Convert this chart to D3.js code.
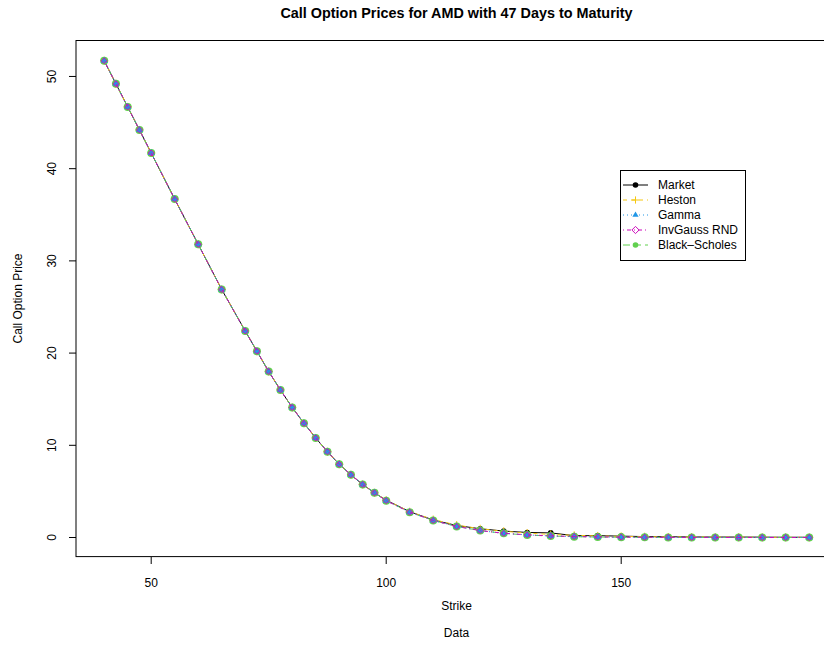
<!DOCTYPE html>
<html><head><meta charset="utf-8">
<script src="https://cdn.jsdelivr.net/npm/d3@7"></script>
<style>body{margin:0;background:#fff}svg{display:block;font-family:"Liberation Sans",Arial,Helvetica,sans-serif}</style>
</head><body>
<script>
const strikes = [40,42.5,45,47.5,50,55,60,65,70,72.5,75,77.5,80,82.5,85,87.5,90,92.5,95,97.5,100,105,110,115,120,125,130,135,140,145,150,155,160,165,170,175,180,185,190];
const market  = [51.7,49.2,46.7,44.2,41.7,36.7,31.8,26.9,22.4,20.2,18.0,16.0,14.1,12.4,10.8,9.3,7.95,6.8,5.75,4.85,4.05,2.8,1.9,1.3,0.95,0.7,0.55,0.5,0.2,0.2,0.15,0.1,0.08,0.06,0.05,0.05,0.04,0.03,0.03];
const heston  = [51.7,49.2,46.7,44.2,41.7,36.7,31.8,26.9,22.4,20.2,18.0,16.0,14.1,12.4,10.8,9.3,7.95,6.8,5.75,4.85,4.05,2.8,1.95,1.35,0.95,0.68,0.48,0.34,0.24,0.17,0.12,0.09,0.06,0.05,0.04,0.03,0.02,0.02,0.01];
const gamma   = [51.7,49.2,46.7,44.2,41.7,36.7,31.8,26.9,22.4,20.2,18.0,16.0,14.1,12.4,10.8,9.3,7.95,6.8,5.75,4.85,4.0,2.75,1.85,1.2,0.75,0.45,0.28,0.17,0.1,0.06,0.04,0.02,0.01,0.01,0.0,0.0,0.0,0.0,0.0];
const invgauss= [51.7,49.2,46.7,44.2,41.7,36.7,31.8,26.9,22.4,20.2,18.0,16.0,14.1,12.4,10.8,9.3,7.95,6.8,5.75,4.85,4.0,2.75,1.85,1.2,0.76,0.46,0.29,0.18,0.11,0.07,0.04,0.03,0.02,0.01,0.01,0.0,0.0,0.0,0.0];
const blackScholes = [51.7,49.2,46.7,44.2,41.7,36.7,31.8,26.9,22.4,20.2,18.0,16.0,14.1,12.4,10.8,9.3,7.95,6.8,5.75,4.85,4.0,2.75,1.85,1.2,0.75,0.45,0.27,0.16,0.09,0.05,0.03,0.02,0.01,0.0,0.0,0.0,0.0,0.0,0.0];
const xTicks = [50,100,150];
const yTicks = [0,10,20,30,40,50];
const seriesNames = ["Market","Heston","Gamma","InvGauss RND","Black\u2013Scholes"];
const titleText = "Call Option Prices for AMD with 47 Days to Maturity";

const W=824,H=646;
const svg=d3.select("body").append("svg").attr("width",W).attr("height",H);
const x=d3.scaleLinear().domain([34,196]).range([76,837.4]);
const y=d3.scaleLinear().domain([-2.07,53.9]).range([556.6,40.5]);

const series=[
 {name:seriesNames[0],vals:market,color:"#000000",dash:null,pch:"circle",r:2.8},
 {name:seriesNames[1],vals:heston,color:"#F5C710",dash:"4,4",pch:"plus",r:4},
 {name:seriesNames[4],vals:blackScholes,color:"#61D04F",dash:"7,4",pch:"circle",r:4},
 {name:seriesNames[2],vals:gamma,color:"#2297E6",dash:"1,3",pch:"triangle",r:4},
 {name:seriesNames[3],vals:invgauss,color:"#CD0BBC",dash:"1,3,4,3",pch:"diamond",r:3}
];
const legendOrder=[0,1,3,4,2];

function drawSymbol(g,pch,color,cx,cy,r){
  if(pch==="circle") g.append("circle").attr("cx",cx).attr("cy",cy).attr("r",r).attr("fill",color);
  else if(pch==="plus") g.append("path").attr("d",`M${cx-r},${cy}H${cx+r}M${cx},${cy-r}V${cy+r}`).attr("stroke",color).attr("fill","none");
  else if(pch==="triangle"){g.append("path").attr("d",`M${cx},${cy-r}L${cx+r*0.87},${cy+r*0.5}L${cx-r*0.87},${cy+r*0.5}Z`).attr("fill",color);}
  else if(pch==="diamond"){g.append("path").attr("d",`M${cx},${cy-r}L${cx+r},${cy}L${cx},${cy+r}L${cx-r},${cy}Z`).attr("fill","none").attr("stroke",color);}
}

const plot=svg.append("g");
const line=d3.line().x(d=>x(d[0])).y(d=>y(d[1]));
series.forEach(s=>{
  const pts=strikes.map((k,i)=>[k,s.vals[i]]);
  plot.append("path").attr("d",line(pts)).attr("fill","none").attr("stroke",s.color).attr("stroke-width",1).attr("stroke-dasharray",s.dash);
  const g=plot.append("g");
  pts.forEach(p=>drawSymbol(g,s.pch,s.color,x(p[0]),y(p[1]),s.r));
});

// box
svg.append("rect").attr("x",76).attr("y",40.5).attr("width",837.4-76).attr("height",556.6-40.5).attr("fill","none").attr("stroke","#000");

// x axis
const xa=svg.append("g");
xTicks.forEach(t=>{
  xa.append("line").attr("x1",x(t)).attr("x2",x(t)).attr("y1",557).attr("y2",564).attr("stroke","#000");
  xa.append("text").attr("x",x(t)).attr("y",587).attr("text-anchor","middle").attr("font-size",12).text(t);
});
// y axis
const ya=svg.append("g");
yTicks.forEach(t=>{
  ya.append("line").attr("x1",69).attr("x2",76).attr("y1",y(t)).attr("y2",y(t)).attr("stroke","#000");
  ya.append("text").attr("transform",`translate(56,${y(t)}) rotate(-90)`).attr("text-anchor","middle").attr("font-size",12).text(t);
});

svg.append("text").attr("x",456.5).attr("y",610).attr("text-anchor","middle").attr("font-size",12).text("Strike");
svg.append("text").attr("x",456.5).attr("y",637).attr("text-anchor","middle").attr("font-size",12).text("Data");
svg.append("text").attr("transform","translate(22,298.5) rotate(-90)").attr("text-anchor","middle").attr("font-size",12).text("Call Option Price");
svg.append("text").attr("x",456.5).attr("y",18).attr("text-anchor","middle").attr("font-size",14.4).attr("font-weight","bold").text(titleText);

// legend
const lg=svg.append("g");
lg.append("rect").attr("x",620.5).attr("y",170.5).attr("width",125).attr("height",90).attr("fill","#fff").attr("stroke","#000");
legendOrder.forEach((si,i)=>{
  const s=series[si];const cy=185+i*15;
  lg.append("line").attr("x1",623).attr("x2",648).attr("y1",cy).attr("y2",cy).attr("stroke",s.color).attr("stroke-dasharray",s.dash);
  drawSymbol(lg,s.pch,s.color,635.5,cy,s.pch==="circle"?2.8:3.6);
  lg.append("text").attr("x",658).attr("y",cy+4.3).attr("font-size",12).text(s.name);
});
</script>
</body></html>
